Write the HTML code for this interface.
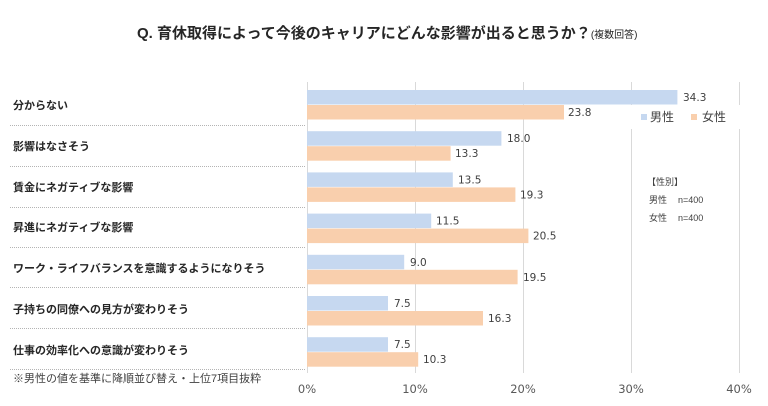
<!DOCTYPE html>
<html><head><meta charset="utf-8"><style>
html,body{margin:0;padding:0;background:#fff;}
svg{display:block;}
.lab{font-family:"Liberation Sans","Noto Sans CJK JP",sans-serif;font-size:11px;font-weight:bold;fill:#262626;}
.val{font-family:"DejaVu Sans","Liberation Sans",sans-serif;font-size:10.5px;fill:#404040;}
.ax{font-family:"DejaVu Sans","Liberation Sans",sans-serif;font-size:11.5px;fill:#595959;}
</style></head><body>
<svg width="768" height="406" viewBox="0 0 768 406" xmlns="http://www.w3.org/2000/svg">
<rect width="768" height="406" fill="#fff"/>
<text x="137" y="38" font-family="Liberation Sans,Noto Sans CJK JP,sans-serif" font-weight="bold" font-size="15" fill="#262626">Q. 育休取得によって今後のキャリアにどんな影響が出ると思うか？<tspan font-size="10" font-weight="normal" dy="0">(複数回答)</tspan></text>
<g stroke="#d9d9d9" stroke-width="1">
<line x1="307.5" y1="82" x2="307.5" y2="373"/>
<line x1="415.5" y1="82" x2="415.5" y2="373"/>
<line x1="523.5" y1="82" x2="523.5" y2="373"/>
<line x1="631.5" y1="82" x2="631.5" y2="373"/>
<line x1="739.5" y1="82" x2="739.5" y2="373"/>
</g>
<g stroke="#b4b4b4" stroke-width="1" stroke-dasharray="1,1">
<line x1="10" y1="125.5" x2="305" y2="125.5"/>
<line x1="10" y1="166.5" x2="305" y2="166.5"/>
<line x1="10" y1="207.5" x2="305" y2="207.5"/>
<line x1="10" y1="247.5" x2="305" y2="247.5"/>
<line x1="10" y1="287.5" x2="305" y2="287.5"/>
<line x1="10" y1="328.5" x2="305" y2="328.5"/>
<line x1="10" y1="369.5" x2="305" y2="369.5"/>
</g>
<g fill="#c6d8f0">
<rect x="307" y="90" width="370.4" height="14.5"/>
<rect x="307" y="131.2" width="194.4" height="14.5"/>
<rect x="307" y="172.4" width="145.8" height="14.5"/>
<rect x="307" y="213.6" width="124.2" height="14.5"/>
<rect x="307" y="254.8" width="97.2" height="14.5"/>
<rect x="307" y="296" width="81" height="14.5"/>
<rect x="307" y="337.2" width="81" height="14.5"/>
</g>
<g fill="#f9cfad">
<rect x="307" y="105" width="257" height="14.5"/>
<rect x="307" y="146.2" width="143.6" height="14.5"/>
<rect x="307" y="187.4" width="208.4" height="14.5"/>
<rect x="307" y="228.6" width="221.4" height="14.5"/>
<rect x="307" y="269.8" width="210.6" height="14.5"/>
<rect x="307" y="311" width="176" height="14.5"/>
<rect x="307" y="352.2" width="111.2" height="14.5"/>
</g>
<g class="val">
<text x="683" y="101">34.3</text><text x="568" y="116">23.8</text>
<text x="507" y="142.2">18.0</text><text x="455" y="157.2">13.3</text>
<text x="458" y="183.4">13.5</text><text x="520" y="198.4">19.3</text>
<text x="436" y="224.6">11.5</text><text x="533" y="239.6">20.5</text>
<text x="410" y="265.8">9.0</text><text x="523" y="280.8">19.5</text>
<text x="394" y="307">7.5</text><text x="488" y="322">16.3</text>
<text x="394" y="348.2">7.5</text><text x="423" y="363.2">10.3</text>
</g>
<g class="lab">
<text x="13" y="109">分からない</text>
<text x="13" y="150">影響はなさそう</text>
<text x="13" y="191">賃金にネガティブな影響</text>
<text x="13" y="231">昇進にネガティブな影響</text>
<text x="13" y="272">ワーク・ライフバランスを意識するようになりそう</text>
<text x="13" y="313">子持ちの同僚への見方が変わりそう</text>
<text x="13" y="354">仕事の効率化への意識が変わりそう</text>
</g>
<text x="13" y="382" font-family="Liberation Sans,Noto Sans CJK JP,sans-serif" font-size="11" fill="#404040">※男性の値を基準に降順並び替え・上位7項目抜粋</text>
<g class="ax" text-anchor="middle">
<text x="307" y="393">0%</text>
<text x="415" y="393">10%</text>
<text x="523" y="393">20%</text>
<text x="631" y="393">30%</text>
<text x="739" y="393">40%</text>
</g>
<rect x="620" y="105" width="126" height="24" fill="#fff"/>
<rect x="641" y="114" width="6" height="6" fill="#c6d8f0"/>
<text x="650" y="121" font-family="Liberation Sans,Noto Sans CJK JP,sans-serif" font-size="12" fill="#404040">男性</text>
<rect x="691" y="114" width="6" height="6" fill="#f9cfad"/>
<text x="702" y="121" font-family="Liberation Sans,Noto Sans CJK JP,sans-serif" font-size="12" fill="#404040">女性</text>
<g font-family="Liberation Sans,Noto Sans CJK JP,sans-serif" font-size="9" fill="#404040">
<text x="647" y="185">【性別】</text>
<text x="649" y="203">男性</text><text x="678" y="203">n=400</text>
<text x="649" y="221">女性</text><text x="678" y="221">n=400</text>
</g>
</svg>
</body></html>
